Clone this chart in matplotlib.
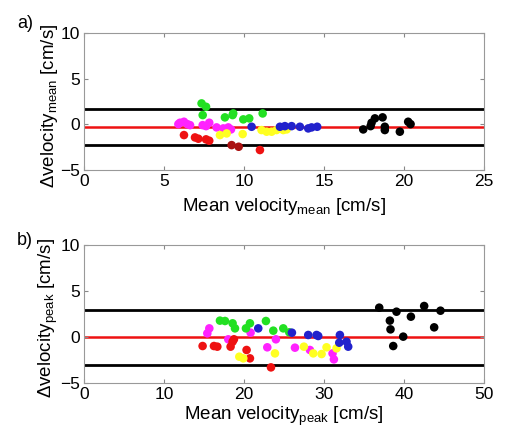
import matplotlib
matplotlib.use("Agg")
import matplotlib.pyplot as plt

plt.rcParams['font.family'] = ['Liberation Sans', 'DejaVu Sans']
plt.rcParams['mathtext.fontset'] = 'custom'
plt.rcParams['mathtext.rm'] = 'Liberation Sans'
plt.rcParams['mathtext.it'] = 'Liberation Sans:italic'

# panel a) mean velocity: (mean, difference) per group
a_magenta_x = [5.9, 6.0, 6.25, 6.46, 6.63, 7.42, 7.63, 7.83, 8.29, 8.71, 9.02, 9.19]
a_magenta_y = [0.03, 0.18, 0.29, 0.03, -0.08, -0.08, -0.19, 0.18, -0.33, -0.44, -0.33, -0.55]
a_green_x = [7.35, 7.63, 7.42, 8.81, 9.33, 9.29, 9.96, 10.33, 11.17]
a_green_y = [2.3, 1.93, 1.02, 0.77, 1.2, 1.02, 0.55, 0.66, 1.2]
a_red_x = [6.25, 6.94, 7.15, 7.63, 7.83, 11.0]
a_red_y = [-1.17, -1.43, -1.57, -1.64, -1.79, -2.81]
a_darkred_x = [9.23, 9.67]
a_darkred_y = [-2.27, -2.45]
a_yellow_x = [8.5, 8.92, 9.92, 11.1, 11.42, 11.73, 12.04, 12.46, 12.67]
a_yellow_y = [-1.17, -0.99, -1.06, -0.62, -0.8, -0.8, -0.62, -0.62, -0.55]
a_blue_x = [10.48, 12.25, 12.56, 12.98, 13.5, 14.02, 14.23, 14.58]
a_blue_y = [-0.26, -0.26, -0.19, -0.19, -0.26, -0.44, -0.33, -0.26]
a_black_x = [17.46, 17.92, 17.98, 18.19, 18.67, 18.81, 18.81, 19.75, 20.27, 20.42]
a_black_y = [-0.55, -0.19, 0.18, 0.66, 0.77, -0.26, -0.62, -0.8, 0.29, 0.03]
a_bias, a_upper, a_lower = -0.3, 1.65, -2.25

# panel b) peak velocity
b_magenta_x = [15.67, 15.42, 18.04, 20.83, 24.0, 22.92, 26.38, 28.25, 31.08, 31.25]
b_magenta_y = [0.94, 0.4, -0.25, 0.47, -0.25, -1.12, -1.16, -1.41, -1.78, -2.43]
b_green_x = [17.0, 17.63, 18.58, 18.88, 20.25, 20.75, 22.75, 23.67, 24.92, 25.67]
b_green_y = [1.78, 1.74, 1.49, 0.94, 0.94, 1.49, 1.74, 0.69, 0.94, 0.51]
b_red_x = [14.83, 16.25, 16.67, 18.33, 18.58, 18.75, 20.33, 20.75, 23.38]
b_red_y = [-0.98, -0.98, -1.05, -1.05, -0.51, -0.25, -1.41, -2.32, -3.3]
b_yellow_x = [19.42, 19.92, 23.88, 27.5, 28.67, 29.71, 30.33, 31.58]
b_yellow_y = [-2.14, -2.32, -1.78, -1.05, -1.78, -1.85, -1.12, -1.23]
b_blue_x = [21.79, 26.0, 28.04, 29.08, 29.29, 32.0, 31.92, 32.83, 33.04]
b_blue_y = [0.94, 0.47, 0.22, 0.22, 0.11, 0.22, -0.62, -0.51, -1.05]
b_black_x = [36.92, 39.08, 42.54, 44.58, 40.88, 38.25, 38.33, 43.79, 39.92, 38.67]
b_black_y = [3.19, 2.75, 3.37, 2.86, 2.21, 1.78, 0.83, 1.05, 0.04, -0.98]
b_bias, b_upper, b_lower = -0.05, 2.9, -3.0

colors = {'magenta': '#ff22ff', 'green': '#22e022', 'red': '#ee1111',
          'darkred': '#aa1111', 'yellow': '#ffff22', 'blue': '#2222cc',
          'black': '#000000'}

fig = plt.figure(figsize=(5.08, 4.29), dpi=100)
ax1 = fig.add_axes([0.1654, 0.6037, 0.787, 0.319])
ax2 = fig.add_axes([0.1654, 0.1072, 0.787, 0.3217])


def panel(ax, groups, bias, upper, lower, xmax, xticks, sub, tag, tag_y, lpad):
    ax.axhline(upper, color='black', lw=2, zorder=1)
    ax.axhline(lower, color='black', lw=2, zorder=1)
    ax.axhline(bias, color='#ee1111', lw=1.8, zorder=1)
    for name, xs, ys in groups:
        ax.scatter(xs, ys, s=38, color=colors[name], edgecolors='none', zorder=3)
    ax.set_xlim(0, xmax)
    ax.set_ylim(-5, 10)
    ax.set_xticks(xticks)
    ax.set_yticks([-5, 0, 5, 10])
    ax.tick_params(direction='in', length=3, color='#888888', labelsize=12.5,
                   top=True, right=True, pad=3)
    for s in ax.spines.values():
        s.set_color('#999999')
        s.set_linewidth(0.8)
    ax.set_xlabel('Mean velocity$_{\\mathrm{%s}}$ [cm/s]' % sub, fontsize=13.5, labelpad=lpad)
    ax.set_ylabel('$\\Delta$velocity$_{\\mathrm{%s}}$ [cm/s]' % sub, fontsize=13.5)
    ax.yaxis.set_label_coords(-0.06, 0.47)
    ax.text(-0.168, tag_y, tag, transform=ax.transAxes, fontsize=13)


panel(ax1, [('magenta', a_magenta_x, a_magenta_y), ('green', a_green_x, a_green_y),
            ('red', a_red_x, a_red_y), ('darkred', a_darkred_x, a_darkred_y),
            ('yellow', a_yellow_x, a_yellow_y), ('blue', a_blue_x, a_blue_y),
            ('black', a_black_x, a_black_y)],
      a_bias, a_upper, a_lower, 25, [0, 5, 10, 15, 20, 25], 'mean', 'a)', 1.04, 5)
panel(ax2, [('magenta', b_magenta_x, b_magenta_y), ('green', b_green_x, b_green_y),
            ('red', b_red_x, b_red_y), ('yellow', b_yellow_x, b_yellow_y),
            ('blue', b_blue_x, b_blue_y), ('black', b_black_x, b_black_y)],
      b_bias, b_upper, b_lower, 50, [0, 10, 20, 30, 40, 50], 'peak', 'b)', 1.0, 2)

fig.savefig('out.png', dpi=100)
